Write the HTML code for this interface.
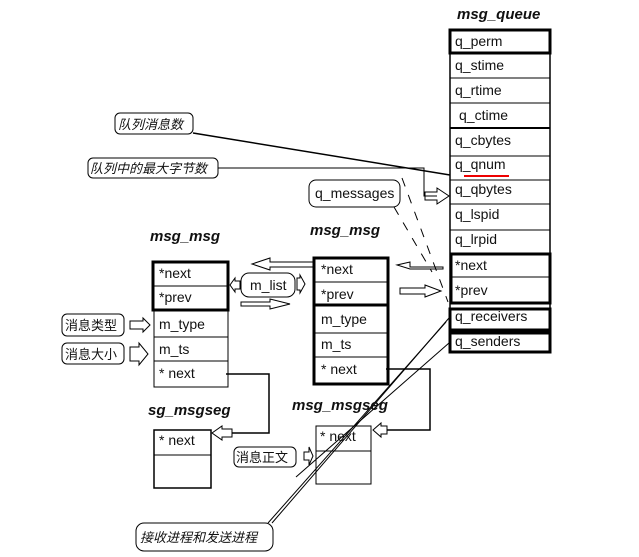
<!DOCTYPE html>
<html><head><meta charset="utf-8"><style>
html,body{margin:0;padding:0;background:#fff;}
svg{display:block;}
text{font-family:"Liberation Sans","Noto Sans CJK SC",sans-serif;font-size:14px;fill:#111;}
.t{font-weight:bold;font-style:italic;font-size:15px;}
.c{font-family:"Liberation Sans","Noto Sans CJK SC",sans-serif;font-size:13px;}
</style></head><body>
<svg width="639" height="557" viewBox="0 0 639 557" xmlns="http://www.w3.org/2000/svg">
<g fill="none" stroke="#000">
<rect x="450" y="30" width="100" height="322" stroke-width="1.5"/>
<rect x="450" y="30" width="100" height="23" stroke-width="3"/>
<line x1="450" y1="78" x2="550" y2="78"/>
<line x1="450" y1="103" x2="550" y2="103"/>
<line x1="450" y1="128" x2="550" y2="128" stroke-width="2"/>
<line x1="450" y1="156" x2="550" y2="156"/>
<line x1="450" y1="180" x2="550" y2="180"/>
<line x1="450" y1="204" x2="550" y2="204"/>
<line x1="450" y1="230" x2="550" y2="230"/>
<rect x="451" y="254" width="99" height="49" stroke-width="3"/>
<line x1="451" y1="277" x2="550" y2="277"/>
<rect x="450" y="309" width="100" height="21" stroke-width="3"/>
<rect x="450" y="333" width="100" height="19" stroke-width="3"/>
<line x1="464" y1="176" x2="509" y2="176" stroke="#e00" stroke-width="2"/>
<rect x="154" y="310" width="74" height="77"/>
<line x1="154" y1="337" x2="228" y2="337"/>
<line x1="154" y1="361" x2="228" y2="361"/>
<rect x="153" y="262" width="75" height="48" stroke-width="3"/>
<line x1="153" y1="286" x2="228" y2="286"/>
<rect x="314" y="258" width="74" height="126" stroke-width="3"/>
<line x1="314" y1="282" x2="388" y2="282"/>
<line x1="314" y1="305" x2="388" y2="305" stroke-width="3"/>
<line x1="314" y1="333" x2="388" y2="333"/>
<line x1="314" y1="357" x2="388" y2="357"/>
<rect x="154" y="430" width="57" height="58" stroke-width="1.5"/>
<line x1="154" y1="455" x2="211" y2="455"/>
<rect x="316" y="426" width="55" height="58"/>
<line x1="316" y1="451" x2="371" y2="451"/>
<rect x="115" y="113" width="78" height="21" rx="5"/>
<rect x="88" y="158" width="130" height="20" rx="5"/>
<rect x="309" y="180" width="91" height="27" rx="7"/>
<rect x="241" y="273" width="54" height="24" rx="8"/>
<rect x="62" y="314" width="62" height="22" rx="5"/>
<rect x="62" y="343" width="62" height="21" rx="5"/>
<rect x="234" y="447" width="62" height="20" rx="5"/>
<rect x="136" y="523" width="137" height="28" rx="8"/>
<line x1="193" y1="133" x2="450" y2="175" stroke-width="1.5"/>
<polyline points="218,168 424,168 424,196 437,196"/>
<polygon points="425,192 437,192 437,188 449,196 437,204 437,200 425,200"/>
<polyline points="226,374 269,374 269,433 232,433" stroke-width="1.5"/>
<polygon points="232,429 222,429 222,426 212,433 222,440 222,437 232,437"/>
<polyline points="386,369 430,369 430,430 387,430" stroke-width="1.5"/>
<polygon points="387,426 381,426 381,423 373,430 381,437 381,434 387,434"/>
<polygon points="313,262 270,262 270,258 252,264 270,270 270,267 313,267"/>
<polygon points="241,302 270,302 270,299 290,304 270,309 270,306 241,306"/>
<polygon points="240,281 235,281 235,278 230,285 235,292 235,289 240,289"/>
<polygon points="297,278 300,278 300,275 305,284 300,293 300,290 297,290"/>
<polygon points="443,267 410,267 410,262 397,265 410,269 443,269"/>
<polygon points="400,288 425,288 425,285 441,291 425,297 425,294 400,294"/>
<polygon points="130,321 143,321 143,318 150,325 143,332 143,329 130,329"/>
<polygon points="130,347 139,347 139,343 148,354 139,365 139,361 130,361"/>
<polygon points="304,452 309,452 309,447 313,456 309,465 309,460 304,460"/>
<line x1="402" y1="178" x2="448" y2="302" stroke-dasharray="9,9"/>
<line x1="394" y1="207" x2="432" y2="272" stroke-dasharray="9,9"/>
<line x1="272" y1="523" x2="449" y2="318"/>
<line x1="268" y1="523" x2="446" y2="322"/>
<line x1="296" y1="477" x2="449" y2="343"/>
</g>
<g>
<text class="t" x="457" y="19">msg_queue</text>
<text class="t" x="150" y="241">msg_msg</text>
<text class="t" x="310" y="235">msg_msg</text>
<text class="t" x="148" y="415">sg_msgseg</text>
<text class="t" x="292" y="410">msg_msgseg</text>
<text x="455" y="46">q_perm</text>
<text x="455" y="70">q_stime</text>
<text x="455" y="95">q_rtime</text>
<text x="459" y="120">q_ctime</text>
<text x="455" y="145">q_cbytes</text>
<text x="455" y="169">q_qnum</text>
<text x="455" y="194">q_qbytes</text>
<text x="455" y="219">q_lspid</text>
<text x="455" y="244">q_lrpid</text>
<text x="455" y="270">*next</text>
<text x="455" y="295">*prev</text>
<text x="455" y="321">q_receivers</text>
<text x="455" y="346">q_senders</text>
<text x="159" y="278">*next</text>
<text x="159" y="302">*prev</text>
<text x="159" y="329">m_type</text>
<text x="159" y="354">m_ts</text>
<text x="159" y="378">* next</text>
<text x="321" y="274">*next</text>
<text x="321" y="299">*prev</text>
<text x="321" y="324">m_type</text>
<text x="321" y="349">m_ts</text>
<text x="321" y="374">* next</text>
<text x="159" y="445">* next</text>
<text x="320" y="441">* next</text>
<text x="315" y="198">q_messages</text>
<text x="250" y="290">m_list</text>
<text class="c" x="118" y="129" font-style="italic">队列消息数</text>
<text class="c" x="90" y="173" font-style="italic">队列中的最大字节数</text>
<text class="c" x="65" y="330">消息类型</text>
<text class="c" x="65" y="359">消息大小</text>
<text class="c" x="236" y="462">消息正文</text>
<text class="c" x="140" y="542" font-style="italic">接收进程和发送进程</text>
</g>
</svg>
</body></html>
